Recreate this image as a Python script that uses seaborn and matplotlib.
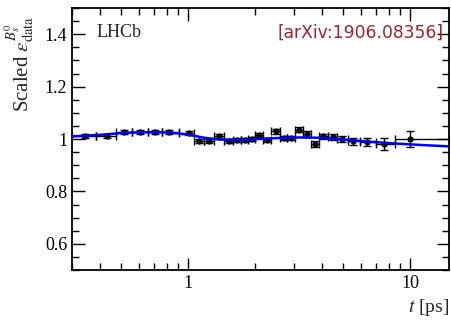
import numpy as np
import pandas as pd
import matplotlib
matplotlib.use("Agg")
import matplotlib.pyplot as plt
import seaborn as sns
from matplotlib.ticker import FixedLocator, NullFormatter, MultipleLocator, FixedFormatter

# data points (bin centres in ps, scaled efficiency, uncertainty)
t_points = [0.342, 0.429, 0.516, 0.609, 0.711, 0.822, 1.01, 1.12, 1.24, 1.38, 1.53,
            1.66, 1.80, 1.94, 2.08, 2.26, 2.48, 2.70, 2.90, 3.15, 3.42, 3.71, 4.07,
            4.47, 4.95, 5.55, 6.41, 7.64, 10.0]
eff_points = [1.013, 1.013, 1.026, 1.026, 1.026, 1.026, 1.023, 0.992, 0.992, 1.011, 0.992,
              0.996, 0.996, 1.000, 1.015, 0.996, 1.030, 1.004, 1.004, 1.036, 1.019, 0.981, 1.010,
              1.008, 1.000, 0.992, 0.989, 0.981, 1.000]
eff_errors = [0.008, 0.008, 0.008, 0.008, 0.008, 0.008, 0.008, 0.008, 0.008, 0.008, 0.008,
              0.008, 0.008, 0.008, 0.008, 0.008, 0.009, 0.009, 0.009, 0.010, 0.010, 0.010, 0.011,
              0.011, 0.012, 0.013, 0.016, 0.024, 0.030]
bin_edges = [0.30, 0.383, 0.471, 0.561, 0.658, 0.765, 0.911, 1.064, 1.178, 1.308, 1.453,
             1.594, 1.729, 1.869, 2.009, 2.168, 2.367, 2.588, 2.798, 3.022, 3.282, 3.562, 3.886,
             4.265, 4.704, 5.241, 5.964, 6.998, 8.55, 15.0]

# fitted spline curve
t_curve = [0.30, 0.40, 0.52, 0.67, 0.82, 1.01, 1.18, 1.38, 1.69, 2.08, 2.56, 3.15,
           3.87, 5.0, 6.5, 8.9, 12.0, 15.0]
eff_curve = [1.010, 1.016, 1.024, 1.026, 1.025, 1.016, 1.005, 0.998, 0.997, 1.000, 1.004, 1.006,
             1.005, 0.998, 0.990, 0.982, 0.976, 0.972]

sns.set_theme(style="ticks")
plt.rcParams['font.family'] = ['Liberation Serif', 'DejaVu Serif']
plt.rcParams['mathtext.fontset'] = 'stix'

fig = plt.figure(figsize=(4.51, 3.2), dpi=100)
ax = fig.add_axes([0.160, 0.156, 0.836, 0.819])

t = np.array(t_points)
edges = np.array(bin_edges)
xerr = np.vstack([t - edges[:-1], edges[1:] - t])

ax.errorbar(t, eff_points, yerr=eff_errors, xerr=xerr, fmt='none', ecolor='black',
            elinewidth=1.0, capsize=3, capthick=1.0, zorder=2)
sns.scatterplot(x=t_points, y=eff_points, ax=ax, color='black', s=20, edgecolor='black',
                linewidth=0, zorder=3)
curve = pd.DataFrame({'t': t_curve, 'eff': eff_curve})
sns.lineplot(data=curve, x='t', y='eff', ax=ax, color='#0000ff', linewidth=1.8, zorder=4)

ax.set_xscale('log')
ax.set_xlim(0.30, 15.0)
ax.set_ylim(0.5, 1.5)

ax.xaxis.set_major_locator(FixedLocator([1, 10]))
ax.xaxis.set_major_formatter(FixedFormatter(['1', '10']))
ax.xaxis.set_minor_locator(FixedLocator([0.3, 0.4, 0.5, 0.6, 0.7, 0.8, 0.9,
                                         2, 3, 4, 5, 6, 7, 8, 9]))
ax.xaxis.set_minor_formatter(NullFormatter())
ax.yaxis.set_major_locator(FixedLocator([0.6, 0.8, 1.0, 1.2, 1.4]))
ax.yaxis.set_major_formatter(FixedFormatter(['0.6', '0.8', '1', '1.2', '1.4']))
ax.yaxis.set_minor_locator(MultipleLocator(0.05))

ax.tick_params(which='both', direction='in', top=True, right=True, colors='black',
               labelsize=13, width=1.0)
ax.tick_params(which='major', length=9)
ax.tick_params(which='minor', length=5)
for sp in ax.spines.values():
    sp.set_linewidth(1.3)
    sp.set_color('black')

ax.set_xlabel('')
ax.set_ylabel('')
fig.text(0.004, 0.80, r'Scaled $\varepsilon^{B_s^0}_{\rm data}$', rotation=90,
         ha='left', va='center', fontsize=15)
fig.text(0.995, 0.005, r'$t$ [ps]', ha='right', va='bottom', fontsize=14)

ax.text(0.065, 0.94, 'LHCb', transform=ax.transAxes, fontsize=13, ha='left', va='top')
ax.text(0.984, 0.94, '[arXiv:1906.08356]', transform=ax.transAxes, fontsize=12.3,
        ha='right', va='top', color='#a3202c', family=['DejaVu Sans'])

fig.savefig('out.png', dpi=100)
